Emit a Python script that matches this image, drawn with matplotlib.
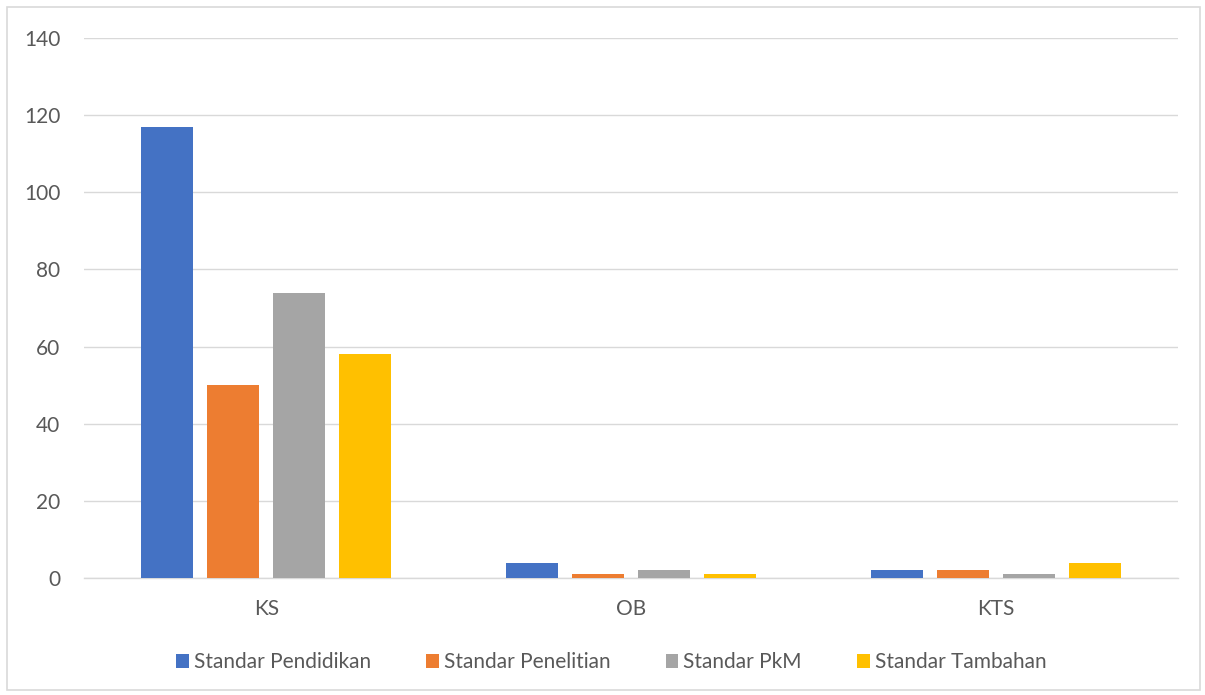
import matplotlib.pyplot as plt
from matplotlib.patches import Rectangle
import numpy as np

categories = ['KS', 'OB', 'KTS']
series_names = ['Standar Pendidikan', 'Standar Penelitian', 'Standar PkM', 'Standar Tambahan']
series_values = [
    [117, 4, 2],
    [50, 1, 2],
    [74, 2, 1],
    [58, 1, 4],
]
colors = ['#4472c4', '#ed7d31', '#a5a5a5', '#ffc000']
yticks = [0, 20, 40, 60, 80, 100, 120, 140]

plt.rcParams['font.family'] = ['Lato', 'DejaVu Sans']
text_color = '#595959'

fig = plt.figure(figsize=(12.05, 6.95), dpi=100)
ax = fig.add_axes([0.0697, 0.1683, 0.9079, 0.777])

x = np.arange(len(categories))
step = 0.181
width = 0.143
for i, (name, vals) in enumerate(zip(series_names, series_values)):
    ax.bar(x + (i - 1.5) * step, vals, width=width, color=colors[i], label=name, zorder=3)

ax.set_xlim(-0.5, 2.5)
ax.set_ylim(0, 140)
ax.set_yticks(yticks)
ax.set_xticks(x)
ax.set_xticklabels(categories)
ax.grid(axis='y', color='#d9d9d9', linewidth=1, zorder=0)
for s in ['top', 'right', 'left']:
    ax.spines[s].set_visible(False)
ax.spines['bottom'].set_color('#d9d9d9')
ax.spines['bottom'].set_linewidth(1)
ax.tick_params(axis='both', length=0, colors=text_color, labelsize=15)
ax.tick_params(axis='y', pad=17)
ax.tick_params(axis='x', pad=15)

ax.legend(loc='center', bbox_to_anchor=(0.482, -0.156),
          bbox_transform=ax.transAxes, ncol=4, frameon=False, fontsize=15,
          handlelength=0.6, handleheight=0.6, handletextpad=0.25, columnspacing=2.65,
          labelcolor=text_color)

fig.patches.append(Rectangle((7 / 1205, 5 / 695), 1193 / 1205, 683 / 695, transform=fig.transFigure,
                             fill=False, edgecolor='#d9d9d9', linewidth=1.2))

fig.savefig('out.png', dpi=100)
